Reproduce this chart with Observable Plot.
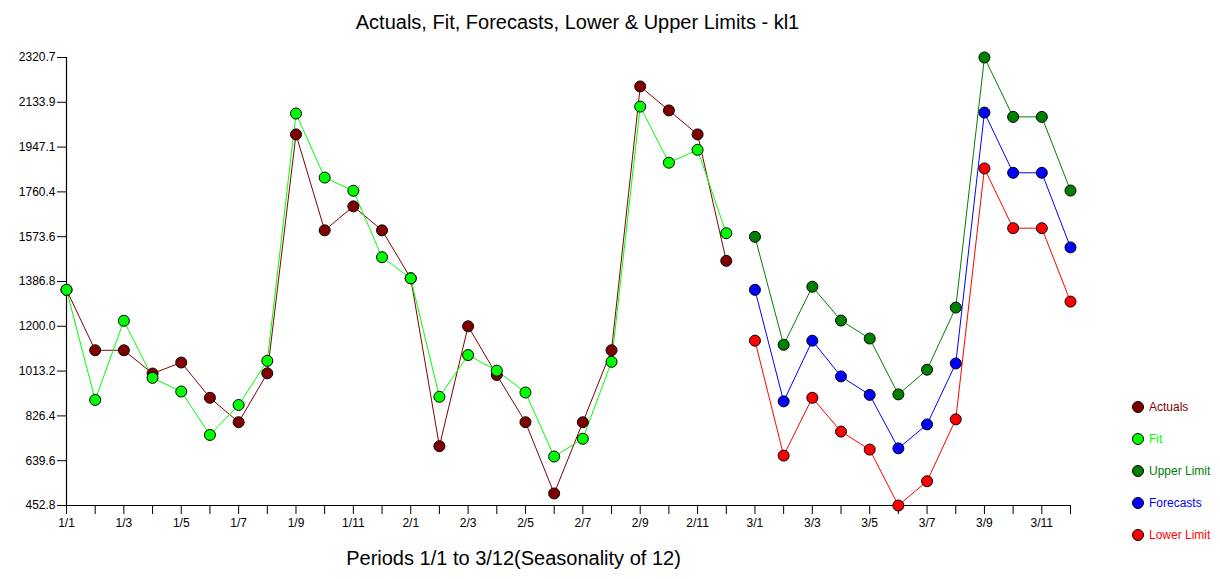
<!DOCTYPE html>
<html>
<head>
<meta charset="utf-8">
<script src="https://cdn.jsdelivr.net/npm/d3@7"></script>
<script src="https://cdn.jsdelivr.net/npm/@observablehq/plot@0.6"></script>
<style>
  html, body { margin: 0; padding: 0; background: #fff; }
  #wrap { position: relative; width: 1220px; height: 579px; font-family: "Liberation Sans", Arial, sans-serif; }
  #title { position: absolute; top: 11px; left: 577.5px; transform: translateX(-50%); white-space: nowrap; font-size: 20px; line-height: 23px; color: #000; }
  #xlabel { position: absolute; top: 547px; left: 513.5px; transform: translateX(-50%); white-space: nowrap; font-size: 20px; line-height: 23px; color: #000; }
  #legend { position: absolute; left: 0; top: 0; }
  .item { position: absolute; white-space: nowrap; font-size: 12px; line-height: 14px; }
  .sw { position: absolute; width: 10px; height: 10px; border-radius: 50%; border: 1px solid #000; }
  svg { display: block; }
</style>
</head>
<body>
<div id="wrap">
  <div id="chart"></div>
  <div id="title">Actuals, Fit, Forecasts, Lower &amp; Upper Limits - kl1</div>
  <div id="xlabel">Periods 1/1 to 3/12(Seasonality of 12)</div>
  <div id="legend"></div>
</div>
<script>
// ---- data ----
const periodLabels = [
  "1/1","1/2","1/3","1/4","1/5","1/6","1/7","1/8","1/9","1/10","1/11","1/12",
  "2/1","2/2","2/3","2/4","2/5","2/6","2/7","2/8","2/9","2/10","2/11","2/12",
  "3/1","3/2","3/3","3/4","3/5","3/6","3/7","3/8","3/9","3/10","3/11","3/12"
];
const actuals = [1352, 1100, 1100, 1003, 1049, 902, 800, 1004, 2000, 1600, 1700, 1600,
                 1400, 700, 1200, 997, 800, 503, 800, 1100, 2200, 2100, 2000, 1473];
const fit = [1352, 893, 1223, 985, 928, 747, 872, 1056, 2087, 1820, 1765, 1488,
             1400, 906, 1080, 1015, 924, 657, 731, 1052, 2116, 1882, 1936, 1588];
const upperLimit = [1573, 1123, 1365, 1224, 1149, 916, 1019, 1278, 2320.7, 2073, 2073, 1766];
const forecasts  = [1352, 887, 1140, 991, 914, 691, 791, 1045, 2091, 1840, 1840, 1529];
const lowerLimit = [1140, 661, 902, 761, 686, 452.8, 554, 812, 1858, 1609, 1609, 1303];
const yTickLabels = ["452.8","639.6","826.4","1013.2","1200.0","1386.8","1573.6","1760.4","1947.1","2133.9","2320.7"];
const seriesNames = ["Actuals", "Fit", "Upper Limit", "Forecasts", "Lower Limit"];
const seriesColors = ["#800000", "#00ff00", "#008000", "#0000ff", "#ff0000"];

// ---- tables ----
const histStart = 1, fcStart = 25;
const toRows = (arr, start) => arr.map((v, i) => ({t: start + i, v}));
const rows = [
  toRows(actuals, histStart),
  toRows(fit, histStart),
  toRows(upperLimit, fcStart),
  toRows(forecasts, fcStart),
  toRows(lowerLimit, fcStart)
];
const yTicks = yTickLabels.map(Number);
const yMin = yTicks[0], yMax = yTicks[yTicks.length - 1];
const xTicks = d3.range(1, periodLabels.length + 1);

const lineMarks = rows.map((r, i) => Plot.line(r, {x: "t", y: "v", stroke: seriesColors[i], strokeWidth: 1}));
const dotMarks = rows.map((r, i) => Plot.dot(r, {x: "t", y: "v", r: 5.5, fill: seriesColors[i], stroke: "#000", strokeWidth: 1}));

const chart = Plot.plot({
  width: 1220,
  height: 579,
  marginLeft: 66,
  marginRight: 150,
  marginTop: 57,
  marginBottom: 74,
  style: {fontFamily: "'Liberation Sans', Arial, sans-serif", fontSize: "12px", background: "#fff", color: "#000", overflow: "visible"},
  x: {domain: [1, periodLabels.length]},
  y: {domain: [yMin, yMax]},
  marks: [
    Plot.axisX(xTicks, {tickSize: 9, tickPadding: 4, fontSize: 12,
      tickFormat: d => ((d - 1) % 2 === 0 ? periodLabels[d - 1] : ""), label: null, stroke: "#000"}),
    Plot.axisY(yTicks, {tickSize: 9, tickPadding: 2, fontSize: 12,
      tickFormat: d => d.toFixed(1), label: null, stroke: "#000"}),
    Plot.ruleX([1], {stroke: "#000", strokeWidth: 1.2}),
    Plot.ruleY([yMin], {stroke: "#000", strokeWidth: 1.2}),
    lineMarks[0], lineMarks[1], dotMarks[0], dotMarks[1],
    lineMarks[2], lineMarks[3], lineMarks[4], dotMarks[2], dotMarks[3], dotMarks[4]
  ]
});
document.getElementById("chart").appendChild(chart);

// ---- legend ----
const legend = document.getElementById("legend");
seriesNames.forEach((name, i) => {
  const cy = 407 + i * 32;
  const sw = document.createElement("div");
  sw.className = "sw";
  sw.style.left = (1137.5 - 6) + "px";
  sw.style.top = (cy - 6) + "px";
  sw.style.background = seriesColors[i];
  legend.appendChild(sw);
  const tx = document.createElement("div");
  tx.className = "item";
  tx.style.left = "1149px";
  tx.style.top = (cy - 7) + "px";
  tx.style.color = seriesColors[i];
  tx.textContent = name;
  legend.appendChild(tx);
});
</script>
</body>
</html>
